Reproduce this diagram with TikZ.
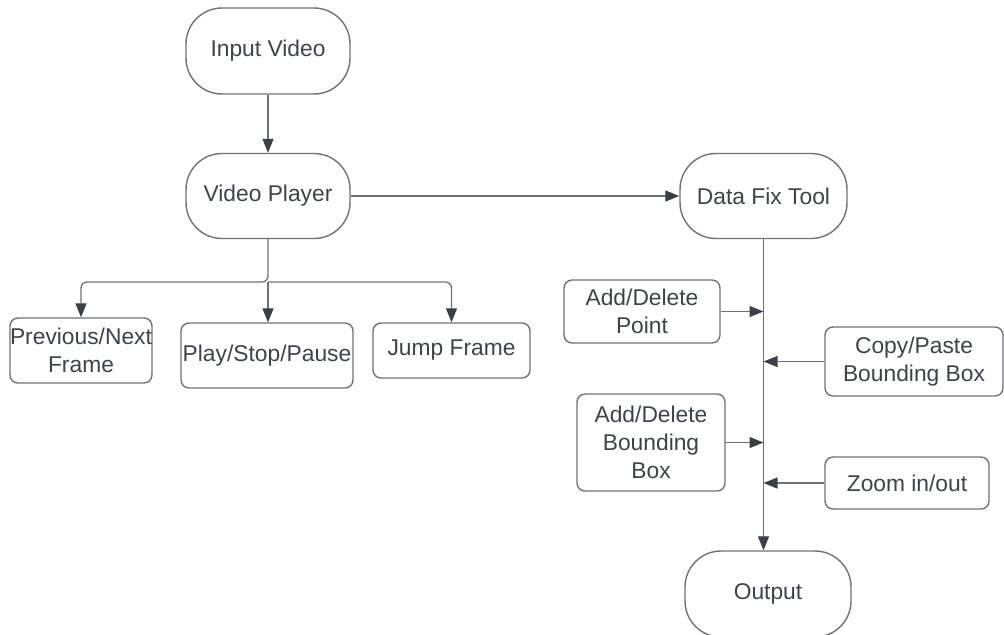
\documentclass[tikz,border=0pt]{standalone}
\usepackage{fontspec}
\setmainfont{Liberation Sans}
\usepackage{tikz}
\definecolor{edge}{HTML}{6E7277}
\definecolor{tipdark}{HTML}{3B4048}
\definecolor{ink}{HTML}{3D434B}
\usetikzlibrary{arrows.meta}
\tikzstyle{terminal}=[rectangle, rounded corners=18pt, draw=edge, line width=0.7pt, text=ink, align=center, inner sep=0pt]
\tikzstyle{process}=[rectangle, rounded corners=4pt, draw=edge, line width=0.7pt, text=ink, align=center, inner sep=0pt]
\tikzstyle{flow}=[draw=edge, line width=0.65pt, -{Triangle[length=7pt,width=5.5pt,color=tipdark]}]

\begin{document}
\begin{tikzpicture}[x=0.5pt, y=-0.5pt, font=\fontsize{11.4}{14}\selectfont]
	\useasboundingbox (0,0) rectangle (1004,634);
	% main column
	\node[terminal, minimum width=82pt, minimum height=43pt] (input) at (268,51) {Input Video};
	\node[terminal, minimum width=82pt, minimum height=42.5pt] (player) at (268,196) {Video Player};
	\node[terminal, minimum width=83.5pt, minimum height=42.5pt] (fixtool) at (763.5,196) {Data Fix Tool};
	\node[terminal, minimum width=83pt, minimum height=43pt] (output) at (768,594) {Output};
	% player controls
	\node[process, minimum width=71pt, minimum height=32.5pt] (prevnext) at (81,350.5) {Previous/Next\\Frame};
	\node[process, minimum width=86pt, minimum height=32.5pt] (playstop) at (267,355.5) {Play/Stop/Pause};
	\node[process, minimum width=78.5pt, minimum height=27.5pt] (jump) at (451.5,350.5) {Jump Frame};
	% fix tool actions
	\node[process, minimum width=78pt, minimum height=31.5pt] (addpoint) at (642,311.5) {Add/Delete\\Point};
	\node[process, minimum width=89pt, minimum height=34.5pt] (copybox) at (914,361.5) {Copy/Paste\\Bounding Box};
	\node[process, minimum width=74pt, minimum height=48.5pt] (addbox) at (651,442.5) {Add/Delete\\Bounding\\Box};
	\node[process, minimum width=82pt, minimum height=26pt] (zoom) at (907,483) {Zoom in/out};
	\coordinate (split) at (268,282);

	\path[flow] (input) -- (player);
	\path[flow] (player) -- (fixtool);
	\path[flow] (fixtool.south) -- (fixtool.south |- output.north);
	\path[flow, rounded corners=3pt] (player.south) -- (split) -| (prevnext.north);
	\path[flow] (split) -- (split |- playstop.north);
	\path[flow, rounded corners=3pt] (split) -| (jump.north);
	\path[flow] (addpoint.east) -- (addpoint.east -| fixtool.south);
	\path[flow] (copybox.west) -- (copybox.west -| fixtool.south);
	\path[flow] (addbox.east) -- (addbox.east -| fixtool.south);
	\path[flow] (zoom.west) -- (zoom.west -| fixtool.south);
\end{tikzpicture}
\end{document}
